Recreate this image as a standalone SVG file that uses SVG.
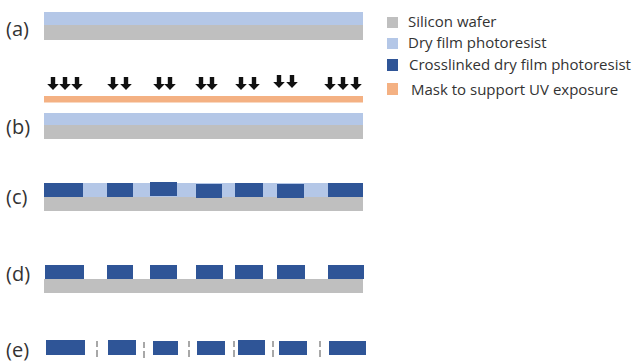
<svg xmlns="http://www.w3.org/2000/svg" width="637" height="363" viewBox="0 0 637 363">
<defs>
<style>
.lbl{font-family:"Open Sans","Liberation Sans",sans-serif;font-size:20px;fill:#333}
.leg{font-family:"Open Sans","Liberation Sans",sans-serif;font-size:15px;fill:#333}
.si{fill:#bfbfbf}
.dry{fill:#b4c7e7}
.cl{fill:#2f5597}
.mask{fill:#f4b183}
.cut{stroke:#8c8c8c;stroke-width:1.5;fill:none}
</style>
<path id="arr" d="M-2.2,0 H2.2 V7 H5.8 L0,13 L-5.8,7 H-2.2 Z" fill="#111"/>
</defs>
<rect width="637" height="363" fill="#fff"/>

<g id="step-a">
<text class="lbl" x="6" y="36">(a)</text>
<rect class="dry" x="44" y="12" width="319" height="13"/>
<rect class="si" x="44" y="25" width="319" height="15"/>
</g>

<g id="uv-exposure">
<use href="#arr" x="53" y="77"/><use href="#arr" x="65" y="77"/><use href="#arr" x="77" y="77"/>
<use href="#arr" x="113" y="77"/><use href="#arr" x="126" y="77"/>
<use href="#arr" x="159" y="77"/><use href="#arr" x="170" y="77"/>
<use href="#arr" x="201" y="77"/><use href="#arr" x="212" y="77"/>
<use href="#arr" x="241" y="77"/><use href="#arr" x="254" y="77"/>
<use href="#arr" x="279" y="75"/><use href="#arr" x="292" y="75"/>
<use href="#arr" x="330" y="77"/><use href="#arr" x="343" y="77"/><use href="#arr" x="356" y="77"/>
<rect class="mask" x="44" y="96" width="319" height="6.5"/>
</g>

<g id="step-b">
<text class="lbl" x="6" y="134">(b)</text>
<rect class="dry" x="44" y="113" width="319" height="12"/>
<rect class="si" x="44" y="125" width="319" height="14"/>
</g>

<g id="step-c">
<text class="lbl" x="6" y="204">(c)</text>
<rect class="dry" x="44" y="183" width="319" height="14"/>
<rect class="si" x="44" y="197" width="319" height="14"/>
<rect class="cl" x="44" y="183" width="39" height="14"/>
<rect class="cl" x="107" y="183" width="26" height="14"/>
<rect class="cl" x="150" y="182" width="27" height="14"/>
<rect class="cl" x="196" y="184" width="26" height="14"/>
<rect class="cl" x="235" y="183" width="28" height="14"/>
<rect class="cl" x="277" y="184" width="27" height="14"/>
<rect class="cl" x="328" y="183" width="35" height="14"/>
</g>

<g id="step-d">
<text class="lbl" x="6" y="281">(d)</text>
<rect class="si" x="44" y="279" width="319" height="14"/>
<rect class="cl" x="45" y="265" width="39" height="14"/>
<rect class="cl" x="107" y="265" width="26" height="14"/>
<rect class="cl" x="150" y="265" width="27" height="14"/>
<rect class="cl" x="196" y="265" width="27" height="14"/>
<rect class="cl" x="235" y="265" width="28" height="14"/>
<rect class="cl" x="277" y="265" width="28" height="14"/>
<rect class="cl" x="328" y="265" width="36" height="14"/>
</g>

<g id="step-e">
<text class="lbl" x="6" y="357">(e)</text>
<rect class="cl" x="46" y="340" width="39" height="15"/>
<rect class="cl" x="108" y="340" width="28" height="15"/>
<rect class="cl" x="153" y="341" width="25" height="14"/>
<rect class="cl" x="197" y="341" width="28" height="14"/>
<rect class="cl" x="238" y="340" width="27" height="15"/>
<rect class="cl" x="279" y="341" width="28" height="14"/>
<rect class="cl" x="329" y="341" width="37" height="14"/>
<path class="cut" d="M97,341 V347 M97,350 V357 M144,342 V348 M144,351 V358 M189,341 V347 M189,350 V357 M234,341 V347 M234,350 V357 M273,341 V347 M273,350 V357 M320,341 V347 M320,350 V357"/>
</g>

<g id="legend">
<rect class="si" x="387" y="17" width="11" height="11"/>
<text class="leg" x="408" y="27">Silicon wafer</text>
<rect class="dry" x="387" y="38" width="11" height="11"/>
<text class="leg" x="408" y="48">Dry film photoresist</text>
<rect class="cl" x="387" y="59" width="11" height="12"/>
<text class="leg" x="409" y="70">Crosslinked dry film photoresist</text>
<rect class="mask" x="387" y="83" width="11" height="12"/>
<text class="leg" x="411" y="95">Mask to support UV exposure</text>
</g>
</svg>
